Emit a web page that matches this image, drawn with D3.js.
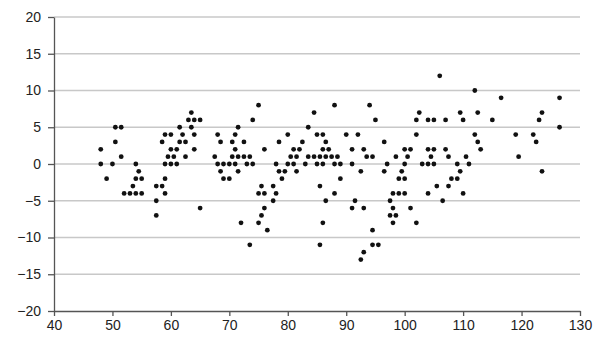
<!DOCTYPE html>
<html>
<head>
<meta charset="utf-8">
<script src="https://cdn.jsdelivr.net/npm/d3@7"></script>
<style>
  body { margin: 0; background: #fff; }
  svg { display: block; font-family: "Liberation Sans", Arial, sans-serif; }
  .grid line { stroke: #c8c8c8; stroke-width: 1.5; }
  .axis path, .axis line { stroke: #555; stroke-width: 1.3; }
  .axis text { fill: #222; font-size: 14px; }
</style>
</head>
<body>
<svg width="599" height="343"></svg>
<script>
// scatter values
const xs = [
  48, 48, 49, 50, 50.5, 50.5, 51.5, 51.5,
  52, 53, 54, 55, 53.5, 54, 55, 54.5, 54,
  57.5, 57.5, 57.5, 58.5, 58.5, 59, 59, 59, 59,
  59.5, 60, 60, 60, 60.5, 61, 61, 61.5, 61.5, 62, 62.5, 62.5,
  63, 63.5, 63.5, 64, 64, 64, 65, 65,
  67.5, 68, 68.5, 68, 68.5, 69, 69, 70, 70, 70.5, 70.5, 71, 71, 71, 71.5, 71.5, 71.5,
  72.5, 72.5, 72, 73.5, 73, 74, 74, 75, 73.5,
  75.5, 75, 76, 76, 75.5, 75, 76.5, 76,
  77.5, 78, 77.5, 78, 78.5, 78.5, 79.5, 79,
  80, 80, 80.5, 81, 81, 81.5, 81.5, 82, 82.5, 83, 83.5, 83.5,
  84.5, 84.5, 85, 85, 85.5, 85.5, 85.5, 86, 86, 86, 86, 86.5, 86.5, 86.5,
  87, 87.5, 88, 88, 88, 88.5, 89, 89,
  90, 91, 91, 91, 91.5, 92, 92.5, 93, 93, 93.5, 94.5, 94, 95, 94.5, 94.5, 95.5, 93, 92.5,
  96.5, 96.5, 97, 97.5, 97.5, 98, 98, 98, 98.5, 98.5, 99, 99, 99.5, 100, 100, 100, 100, 100.5, 101, 101,
  102, 102, 102, 102.5, 103, 104, 104, 104, 104, 104.5, 105, 105, 105, 105.5,
  106, 106.5, 107, 107, 107.5, 107.5, 108, 109, 109, 109.5, 109.5, 110, 110, 110.5, 111,
  112, 112, 112.5, 112.5, 113, 115, 116.5, 119, 119.5, 122, 122.5, 123, 123.5, 123.5, 126.5, 126.5
];
const ys = [
  2, 0, -2, 0, 3, 5, 5, 1,
  -4, -4, -4, -4, -3, -2, -2, -1, 0,
  -3, -5, -7, -3, 3, 4, -2, -4, 0,
  1, 4, 2, 0, 1, 2, 0, 5, 3, 4, 3, 1,
  6, 7, 5, 6, 4, 2, 6, -6,
  1, 4, 3, 0, -1, 0, -2, 0, -2, 3, 1, 4, 2, 0, 5, 1, -1,
  3, 1, -8, 1, 0, 0, 6, 8, -11,
  -3, -4, -4, -6, -7, -8, -9, 2,
  -3, -4, -5, 0, 3, -1, -1, -2,
  4, 0, 1, 2, 0, 1, -1, 2, 3, 0, 5, 1,
  7, 1, 4, 0, 1, -3, -11, 4, 2, 0, -8, 3, 1, -5,
  2, 1, 8, 0, -4, 1, 0, -2,
  4, 2, 0, -6, -5, 4, -1, 2, -6, 1, 1, 8, 6, -9, -11, -11, -12, -13,
  3, -1, 0, -5, -7, -4, -6, -8, -7, 1, -2, -4, -1, -2, -4, 0, 2, 1, 2, -6,
  6, 4, -8, 7, 0, 6, 2, 0, -4, 1, 6, 2, 0, -3,
  12, -5, 6, 2, 1, -3, -2, -2, 0, 7, -1, 6, -4, 1, 0,
  10, 4, 7, 3, 2, 6, 9, 4, 1, 4, 3, 6, 7, -1, 9, 5
];
const xTicks = [40, 50, 60, 70, 80, 90, 100, 110, 120, 130];
const yTicks = [-20, -15, -10, -5, 0, 5, 10, 15, 20];

const svg = d3.select('svg');
const margin = { top: 17, right: 19, bottom: 32, left: 54 };
const width = +svg.attr('width') - margin.left - margin.right;
const height = +svg.attr('height') - margin.top - margin.bottom;

const x = d3.scaleLinear().domain([40, 130]).range([0, width]);
const y = d3.scaleLinear().domain([-20, 20]).range([height, 0]);

const g = svg.append('g')
    .attr('transform', 'translate(' + margin.left + ',' + margin.top + ')');

// horizontal grid
g.append('g')
    .attr('class', 'grid')
  .selectAll('line')
  .data(yTicks.filter(function(d) { return d !== -20; }))
  .enter().append('line')
    .attr('x1', 0)
    .attr('x2', width)
    .attr('y1', function(d) { return y(d); })
    .attr('y2', function(d) { return y(d); });

g.append('g')
    .attr('class', 'axis')
    .attr('transform', 'translate(0,' + height + ')')
    .call(d3.axisBottom(x).tickValues(xTicks).tickSize(5).tickSizeOuter(0).tickPadding(4));

g.append('g')
    .attr('class', 'axis')
    .call(d3.axisLeft(y).tickValues(yTicks).tickSize(6).tickSizeOuter(0).tickPadding(7));

g.append('g')
  .selectAll('circle')
  .data(xs.map(function(d, i) { return [d, ys[i]]; }))
  .enter().append('circle')
    .attr('cx', function(d) { return x(d[0]); })
    .attr('cy', function(d) { return y(d[1]); })
    .attr('r', 2.4)
    .attr('fill', '#111');
</script>
</body>
</html>
